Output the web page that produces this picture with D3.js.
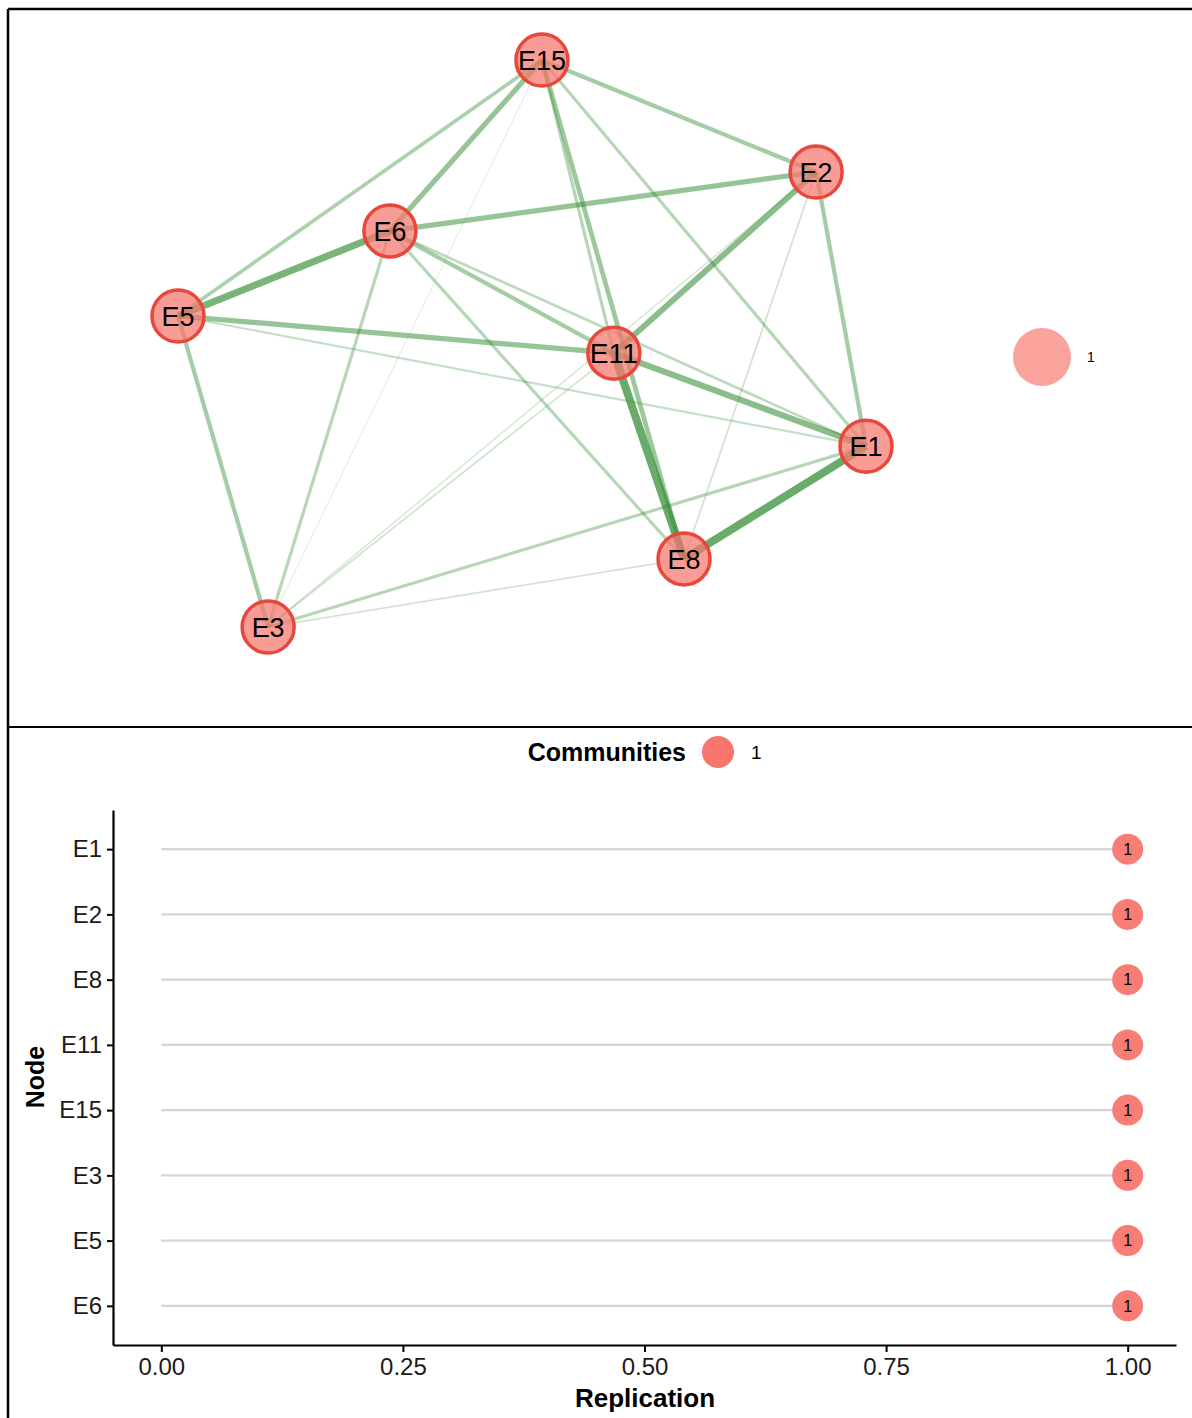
<!DOCTYPE html>
<html>
<head>
<meta charset="utf-8">
<script src="https://cdn.jsdelivr.net/npm/d3@7"></script>
<style>
  body { margin: 0; background: #fff; }
  svg { display: block; font-family: "Liberation Sans", Arial, sans-serif; }
</style>
</head>
<body>
<svg id="chart" width="1192" height="1418"></svg>
<script>
// network nodes and their layout coordinates (layout units, -1..1)
var nodes = ['E15', 'E2', 'E6', 'E5', 'E11', 'E1', 'E8', 'E3']
var layoutX = [0.058, 0.855, -0.384, -1.0, 0.267, 1.0, 0.471, -0.738]
var layoutY = [1.0, 0.605, 0.397, 0.097, -0.034, -0.362, -0.760, -1.0]

// edges (from, to, weight)
var edgeFrom = ['E11', 'E1', 'E6', 'E2', 'E11', 'E15', 'E2', 'E5', 'E15', 'E15', 'E2', 'E6', 'E5', 'E15', 'E15', 'E15', 'E6', 'E6', 'E1', 'E6', 'E5', 'E2', 'E3', 'E3', 'E8', 'E15']
var edgeTo = ['E8', 'E8', 'E5', 'E11', 'E1', 'E6', 'E6', 'E11', 'E8', 'E2', 'E1', 'E11', 'E3', 'E5', 'E11', 'E1', 'E8', 'E3', 'E3', 'E1', 'E1', 'E8', 'E11', 'E2', 'E3', 'E3']
var edgeWeight = [0.30, 0.30, 0.26, 0.22, 0.22, 0.19, 0.19, 0.19, 0.17, 0.15, 0.15, 0.15, 0.15, 0.13, 0.11, 0.11, 0.11, 0.11, 0.11, 0.09, 0.07, 0.05, 0.05, 0.04, 0.05, 0.02]

// replication plot
var repNodes = ['E1', 'E2', 'E8', 'E11', 'E15', 'E3', 'E5', 'E6']
var repValues = [1, 1, 1, 1, 1, 1, 1, 1]
var repCommunity = ['1', '1', '1', '1', '1', '1', '1', '1']
var xTicks = [0, 0.25, 0.5, 0.75, 1]
var communities = ['1']

var svg = d3.select('#chart')
var pink = '#F8766D'

// panel frame
svg.append('line').attr('x1', 8).attr('x2', 1192).attr('y1', 9).attr('y2', 9)
    .attr('stroke', '#000').attr('stroke-width', 2.5)
svg.append('line').attr('x1', 8).attr('x2', 8).attr('y1', 9).attr('y2', 1418)
    .attr('stroke', '#000').attr('stroke-width', 2.5)
svg.append('line').attr('x1', 8).attr('x2', 1192).attr('y1', 727).attr('y2', 727)
    .attr('stroke', '#000').attr('stroke-width', 2)

/*
    --------------------------------------
    Network panel
*/
var netX = d3.scaleLinear().domain([-1, 1]).range([178, 866])
var netY = d3.scaleLinear().domain([-1, 1]).range([627, 60])
var wScale = d3.scaleLinear().domain([0, 0.30]).range([0.4, 8])
var aScale = d3.scaleLinear().domain([0, 0.30]).range([0.14, 0.72])

var pos = {}
nodes.forEach((n, i) => { pos[n] = {x: netX(layoutX[i]), y: netY(layoutY[i])} })

var edges = edgeFrom.map((f, i) => ({from: f, to: edgeTo[i], w: edgeWeight[i]}))
edges.sort((a, b) => a.w - b.w)

var net = svg.append('g').attr('class', 'network')

net.selectAll('line.edge')
    .data(edges)
    .enter()
    .append('line')
    .attr('class', 'edge')
    .attr('x1', d => pos[d.from].x)
    .attr('y1', d => pos[d.from].y)
    .attr('x2', d => pos[d.to].x)
    .attr('y2', d => pos[d.to].y)
    .attr('stroke', '#2f8a2f')
    .attr('stroke-opacity', d => aScale(d.w))
    .attr('stroke-width', d => wScale(d.w))
    .attr('stroke-linecap', 'butt')

var nodeG = net.selectAll('g.node')
    .data(nodes)
    .enter()
    .append('g')
    .attr('class', 'node')
    .attr('transform', d => `translate(${pos[d].x}, ${pos[d].y})`)

nodeG.append('circle')
    .attr('r', 26)
    .attr('fill', pink)
    .attr('fill-opacity', 0.72)
    .attr('stroke', '#e8473b')
    .attr('stroke-width', 3.5)

nodeG.append('text')
    .attr('text-anchor', 'middle')
    .attr('dy', '0.36em')
    .attr('font-size', 27)
    .attr('textLength', d => d.length > 2 ? 48 : 33)
    .attr('lengthAdjust', 'spacingAndGlyphs')
    .attr('fill', '#000')
    .text(d => d)

// network legend
var netLeg = svg.append('g').attr('transform', 'translate(1042, 357)')
netLeg.append('circle').attr('r', 29).attr('fill', pink).attr('fill-opacity', 0.68)
netLeg.append('text').attr('x', 45).attr('dy', '0.35em')
    .attr('font-size', 14).text(communities[0])

/*
    --------------------------------------
    Replication panel
*/
var x = d3.scaleLinear().domain([-0.05, 1.05]).range([113, 1176])
var y = d3.scalePoint().domain(repNodes).range([810, 1345]).padding(0.6)

var plot = svg.append('g').attr('class', 'replication')

plot.selectAll('line.seg')
    .data(repNodes)
    .enter()
    .append('line')
    .attr('class', 'seg')
    .attr('x1', x(0))
    .attr('x2', (d, i) => x(repValues[i]))
    .attr('y1', d => y(d))
    .attr('y2', d => y(d))
    .attr('stroke', '#d6d6d6')
    .attr('stroke-width', 2.2)

var pts = plot.selectAll('g.pt')
    .data(repNodes)
    .enter()
    .append('g')
    .attr('class', 'pt')
    .attr('transform', (d, i) => `translate(${x(repValues[i])}, ${y(d)})`)

pts.append('circle').attr('r', 15.5).attr('fill', pink).attr('fill-opacity', 0.95)
pts.append('text').attr('text-anchor', 'middle').attr('dy', '0.36em')
    .attr('font-size', 16).text((d, i) => repCommunity[i])

var xAxis = plot.append('g')
    .attr('transform', 'translate(0, 1345)')
    .call(d3.axisBottom(x).tickValues(xTicks).tickFormat(d3.format('.2f')).tickSize(7).tickSizeOuter(0).tickPadding(6))
xAxis.select('.domain').attr('stroke-width', 2.2)
xAxis.selectAll('.tick line').attr('stroke-width', 2)
xAxis.selectAll('.tick text').attr('font-size', 24).attr('fill', '#1a1a1a')
    .attr('font-family', '"Liberation Sans", Arial, sans-serif')

var yAxis = plot.append('g')
    .attr('transform', 'translate(113, 0)')
    .call(d3.axisLeft(y).tickSize(6).tickSizeOuter(0).tickPadding(5))
yAxis.select('.domain').attr('stroke-width', 2.2)
yAxis.selectAll('.tick line').attr('stroke-width', 2)
yAxis.selectAll('.tick text').attr('font-size', 24).attr('fill', '#1a1a1a')
    .attr('font-family', '"Liberation Sans", Arial, sans-serif')

// axis titles
svg.append('text').attr('x', 645).attr('y', 1407).attr('text-anchor', 'middle')
    .attr('font-size', 26).attr('font-weight', 'bold').text('Replication')
svg.append('text').attr('transform', 'translate(44, 1077) rotate(-90)')
    .attr('text-anchor', 'middle').attr('font-size', 25).attr('font-weight', 'bold').text('Node')

// legend
var leg = svg.append('g').attr('transform', 'translate(0, 752)')
leg.append('text').attr('x', 686).attr('dy', '0.36em').attr('text-anchor', 'end')
    .attr('font-size', 25).attr('font-weight', 'bold').text('Communities')
leg.selectAll('circle').data(communities).enter().append('circle')
    .attr('cx', 718).attr('r', 16).attr('fill', pink)
leg.selectAll('text.lab').data(communities).enter().append('text')
    .attr('class', 'lab').attr('x', 751).attr('dy', '0.36em')
    .attr('font-size', 19).text(d => d)
</script>
</body>
</html>
